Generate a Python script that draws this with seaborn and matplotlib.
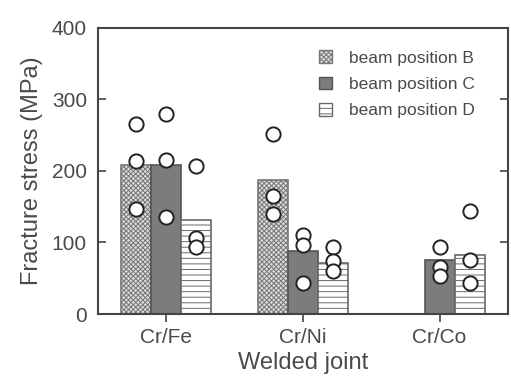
import numpy as np
import pandas as pd
import matplotlib
matplotlib.use("Agg")
import matplotlib.pyplot as plt
import seaborn as sns
from matplotlib.patches import Patch

# ---- data ----
joints = ["Cr/Fe", "Cr/Ni", "Cr/Co"]
positions = ["beam position B", "beam position C", "beam position D"]
bar_B = [208, 187, np.nan]
bar_C = [209, 88, 76]
bar_D = [132, 71, 82]

pts_B = [[265, 214, 147], [251, 165, 140], []]
pts_C = [[279, 215, 136], [111, 97, 44], [93, 66, 53]]
pts_D = [[207, 106, 93], [93, 74, 60], [144, 76, 43]]

yticks = [0, 100, 200, 300, 400]

# ---- tables ----
bars = pd.DataFrame({
    "joint": joints * 3,
    "position": [p for p in positions for _ in joints],
    "stress": bar_B + bar_C + bar_D,
})

bar_width = 0.66
offsets = {positions[0]: -bar_width / 3, positions[1]: 0.0, positions[2]: bar_width / 3}
rows = []
for pos, pts in zip(positions, [pts_B, pts_C, pts_D]):
    for j, vals in enumerate(pts):
        for v in vals:
            rows.append({"x": j + offsets[pos], "stress": v, "position": pos})
points = pd.DataFrame(rows)

sns.set_style("ticks")
plt.rcParams["font.family"] = ["Liberation Sans", "DejaVu Sans"]
text_c = "#4a4a4a"
plt.rcParams["text.color"] = text_c
plt.rcParams["axes.labelcolor"] = text_c
plt.rcParams["xtick.color"] = "#444444"
plt.rcParams["ytick.color"] = "#444444"
plt.rcParams["xtick.labelcolor"] = text_c
plt.rcParams["ytick.labelcolor"] = text_c
plt.rcParams["hatch.linewidth"] = 0.7

fig = plt.figure(figsize=(5.11, 3.82), dpi=100)
ax = fig.add_axes([0.1918, 0.178, 0.8022, 0.749])

sns.barplot(data=bars, x="joint", y="stress", hue="position", order=joints,
            hue_order=positions, width=bar_width, ax=ax, legend=False,
            saturation=1, errorbar=None)

styles = [
    dict(facecolor="#dcdcdc", hatch="xxxxxxx", edgecolor="#777777"),
    dict(facecolor="#7c7c7c", hatch=None, edgecolor="#555555"),
    dict(facecolor="#ffffff", hatch="---", edgecolor="#6a6a6a"),
]
for cont, st in zip(ax.containers, styles):
    for p in cont:
        p.set_facecolor(st["facecolor"])
        p.set_edgecolor(st["edgecolor"])
        p.set_hatch(st["hatch"])
        p.set_linewidth(1.2)

sns.scatterplot(data=points, x="x", y="stress", ax=ax, s=105, marker="o",
                facecolor="white", edgecolor="#222222", linewidth=1.4,
                zorder=5, legend=False)

ax.set_xlim(-0.5, 2.5)
ax.set_ylim(0, 400)
ax.set_yticks(yticks)
ax.set_xticks(range(len(joints)))
ax.set_xticklabels(joints)
ax.set_xlabel("Welded joint", fontsize=17, labelpad=4)
ax.set_ylabel("Fracture stress (MPa)", fontsize=17, labelpad=6)
ax.tick_params(axis="y", direction="in", length=6, width=1.2, labelsize=15,
               right=True, pad=8)
ax.tick_params(axis="x", direction="out", length=6, width=1.2, labelsize=15, pad=4)
for s in ax.spines.values():
    s.set_visible(True)
    s.set_color("#444444")
    s.set_linewidth(1.5)

handles = [Patch(facecolor=st["facecolor"], edgecolor=st["edgecolor"],
                 hatch=st["hatch"], linewidth=1.0) for st in styles]
ax.legend(handles, positions, loc="upper right", frameon=False, fontsize=12.5,
          handlelength=0.75, handleheight=0.75, handletextpad=1.0,
          labelspacing=0.62, borderaxespad=0.9, bbox_to_anchor=(0.975, 1.0))

fig.savefig("out.png", dpi=100)
